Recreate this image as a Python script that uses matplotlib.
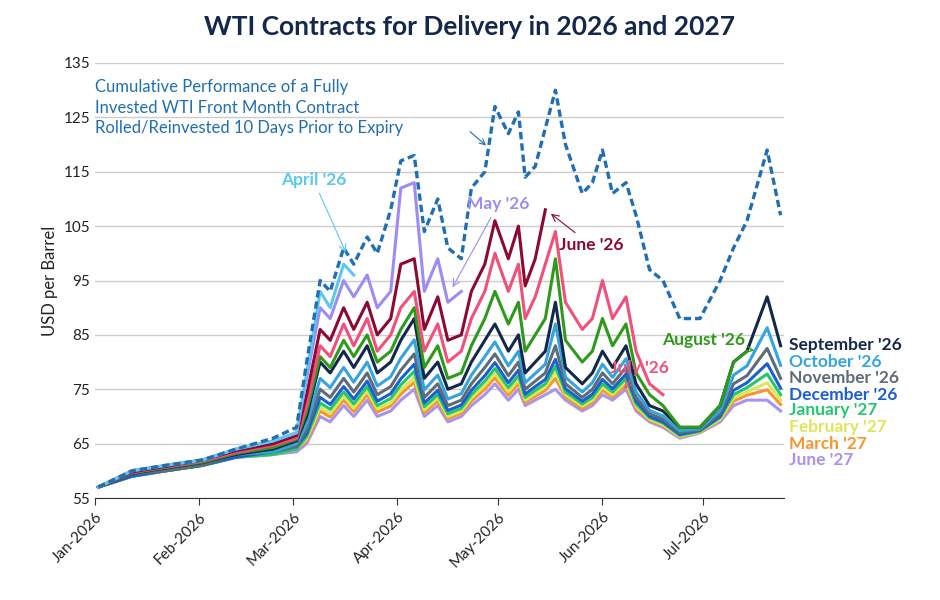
import matplotlib.pyplot as plt
import matplotlib.dates as mdates
import pandas as pd

plt.rcParams['font.family'] = ['Lato', 'DejaVu Sans']

dates = pd.to_datetime([
    "2026-01-02", "2026-01-12", "2026-01-22", "2026-02-02", "2026-02-12", "2026-02-23",
    "2026-03-02", "2026-03-05", "2026-03-09", "2026-03-12", "2026-03-16", "2026-03-19",
    "2026-03-23", "2026-03-26", "2026-03-30", "2026-04-02", "2026-04-06", "2026-04-09",
    "2026-04-13", "2026-04-16", "2026-04-20", "2026-04-23", "2026-04-27", "2026-04-30",
    "2026-05-04", "2026-05-07", "2026-05-09", "2026-05-12", "2026-05-15", "2026-05-18",
    "2026-05-21", "2026-05-26", "2026-05-29", "2026-06-01", "2026-06-04", "2026-06-08",
    "2026-06-11", "2026-06-15", "2026-06-19", "2026-06-24", "2026-06-30", "2026-07-06",
    "2026-07-10", "2026-07-14", "2026-07-20", "2026-07-24"])

front = [57, 60, 61, 62, 64, 66, 68, 80, 95, 93, 101, 98, 103, 100, 108, 117, 118, 104, 110, 101,
         99, 112, 115, 127, 122, 126, 114, 116, 123, 130, 120, 111, 113, 119, 111, 113, 107, 97, 95,
         88, 88, 95, 101, 106, 119, 107]

apr26 = [57, 60, 61, 62, 64, 65.5, 67, 78, 93, 90, 98, 96]
may26 = [57, 60, 61, 62, 64, 65.5, 67, 77, 90, 88, 95, 92, 96, 90, 93, 112, 113, 93, 99, 91, 93]
jun26 = [57, 59.8, 60.8, 62, 63.7, 65, 66.5, 74, 86, 84, 90, 86, 91, 85, 88, 98, 99, 86, 92, 84,
         85, 93, 98, 106, 99, 105, 94, 99, 108]
jul26 = [57, 59.7, 60.7, 61.8, 63.4, 64.7, 66, 72, 83, 81, 87, 83, 88, 82, 85, 90, 93, 82, 87, 80,
         82, 88, 93, 100, 93, 98, 88, 92, 98, 104, 91, 86, 88, 95, 88, 92, 82, 76, 74]
aug26 = [57, 59.6, 60.6, 61.6, 63.2, 64.3, 65.8, 71, 81, 79, 84, 81, 85, 80, 82, 86, 90, 79, 83, 77,
         78, 83, 88, 93, 87, 91, 82, 85, 88, 99, 84, 80, 82, 88, 83, 87, 78, 74, 72, 68, 68, 72, 80, 82]
sep26 = [57, 59.5, 60.5, 61.5, 63, 64, 65.5, 70, 80, 78, 82, 79, 83, 78, 80, 84, 88, 77, 80, 75,
         76, 80, 84, 87, 82, 85, 78, 80, 82, 91, 79, 76, 78, 82, 79, 83, 76, 72, 71, 68, 68, 72, 80,
         82, 92, 83]
oct26 = [57, 59.5, 60.5, 61.5, 63, 63.5, 65, 68.5, 77, 75.3, 79, 76.3, 80, 75.6, 77.3, 80.7, 84.1,
         74.9, 77.6, 73.2, 74.2, 77.6, 81, 83.7, 79.3, 82, 76.2, 77.9, 79.6, 87, 77.2, 74.5, 76.2,
         79.6, 77.2, 80.6, 74.5, 71.1, 70.1, 67.4, 67.7, 71.1, 77.6, 79.3, 86.3, 79.4]
nov26 = [57, 59.5, 60, 61, 63, 63.5, 64.5, 67.5, 75, 73.5, 77, 74.5, 78, 74, 75.5, 78.5, 81.5, 73.5,
         76, 72, 73, 76, 79, 81.5, 77.5, 80, 75, 76.5, 78, 83, 76, 73.5, 75, 78, 76, 79, 73.5, 70.5,
         69.5, 67, 67.5, 70.5, 76, 77.5, 82.5, 77]
dec26 = [57, 59, 60, 61, 62.5, 63.5, 64.5, 66.8, 73.5, 72.2, 75.5, 73.2, 76.5, 72.8, 74.2, 76.9,
         79.6, 72.5, 74.8, 71.1, 72.1, 74.8, 77.5, 79.9, 76.2, 78.5, 74.1, 75.5, 76.8, 80.5, 75.1,
         72.8, 74.1, 76.8, 75.1, 77.8, 72.8, 70, 69, 66.7, 67.4, 70, 74.8, 76.2, 79.7, 75.2]
jan27 = [57, 59, 60, 61, 62.5, 63, 64, 66.3, 72.5, 71.3, 74.5, 72.3, 75.5, 72, 73.3, 75.8, 78.3,
         71.8, 74, 70.5, 71.5, 74, 76.5, 78.8, 75.3, 77.5, 73.5, 74.8, 76, 79.2, 74.5, 72.3, 73.5,
         76, 74.5, 77, 72.3, 69.8, 68.8, 66.5, 67.3, 69.8, 74, 75.3, 77.8, 74]
feb27 = [57, 59, 60, 61, 62.5, 63, 64, 65.9, 71.7, 70.5, 73.7, 71.5, 74.7, 71.4, 72.5, 74.9, 77.2,
         71.2, 73.4, 70, 71, 73.4, 75.7, 77.9, 74.5, 76.7, 73, 74.2, 75.4, 78.2, 74, 71.9, 73, 75.4,
         74, 76.4, 71.9, 69.5, 68.5, 66.3, 67.2, 69.5, 73.4, 74.5, 76.2, 73]
mar27 = [57, 59, 60, 61, 62.5, 63, 64, 65.5, 71, 69.9, 73, 70.9, 74, 70.8, 71.9, 74.1, 76.3, 70.7,
         72.8, 69.6, 70.6, 72.8, 75, 77.1, 73.9, 76, 72.6, 73.7, 74.8, 77, 73.6, 71.5, 72.6, 74.8,
         73.6, 75.8, 71.5, 69.3, 68.3, 66.2, 67.1, 69.3, 72.8, 73.9, 74.9, 72.2]
jun27 = [57, 59, 60, 61, 62.5, 63, 63.5, 65, 70, 69, 72, 70, 73, 70, 71, 73, 75, 70, 72, 69, 70, 72,
         74, 76, 73, 75, 72, 73, 74, 75, 73, 71, 72, 74, 73, 75, 71, 69, 68, 66, 67, 69, 72, 73, 73, 71]

deferred = [
    ("June '27", jun27, "#a793f0"),
    ("March '27", mar27, "#f7942f"),
    ("February '27", feb27, "#dde65a"),
    ("January '27", jan27, "#22c76e"),
    ("December '26", dec26, "#1b5fd0"),
    ("November '26", nov26, "#5f6b78"),
    ("October '26", oct26, "#34a4dc"),
    ("September '26", sep26, "#13284b"),
]
expiring = [
    ("August '26", aug26, "#2e9a1a"),
    ("July '26", jul26, "#f0507a"),
    ("June '26", jun26, "#8b0a32"),
    ("May '26", may26, "#9f8cf2"),
    ("April '26", apr26, "#5bc8f0"),
]

fig = plt.figure(figsize=(9.4, 6), dpi=100)
ax = fig.add_axes([0.101, 0.17, 0.733, 0.725])

for name, vals, col in deferred + expiring:
    ax.plot(dates[:len(vals)], vals, color=col, lw=2.2)
ax.plot(dates, front, color="#1f6fb2", lw=2.4, ls=(0, (2.2, 1.2)))

ax.set_ylim(55, 135)
ax.set_yticks(range(55, 136, 10))
ax.set_xlim(pd.Timestamp("2026-01-01"), pd.Timestamp("2026-07-25"))
ax.xaxis.set_major_locator(mdates.MonthLocator())
ax.xaxis.set_major_formatter(mdates.DateFormatter("%b-%Y"))
plt.setp(ax.get_xticklabels(), rotation=45, ha="right", rotation_mode="anchor")
ax.tick_params(labelsize=11, colors="#222222", length=0)
ax.tick_params(axis="x", length=5, color="#333333")
ax.grid(axis="y", color="#cccccc", lw=1)
ax.set_axisbelow(True)
for s in ["top", "right", "left"]:
    ax.spines[s].set_visible(False)
ax.spines["bottom"].set_color("#333333")
ax.set_ylabel("USD per Barrel", fontsize=12, color="#222222")

fig.suptitle("WTI Contracts for Delivery in 2026 and 2027", fontsize=19, fontweight="bold",
             color="#13284b", y=0.975)

ax.text(pd.Timestamp("2026-01-01"), 132,
        "Cumulative Performance of a Fully\nInvested WTI Front Month Contract\nRolled/Reinvested 10 Days Prior to Expiry",
        color="#1f6fb2", fontsize=12, va="top", linespacing=1.35)
ax.annotate("", xy=(pd.Timestamp("2026-04-28"), 119.5), xytext=(pd.Timestamp("2026-04-22"), 122.7),
            arrowprops=dict(arrowstyle="->", color="#1f6fb2", lw=0.8))

# end labels
right_labels = [("September '26", 83.1), ("October '26", 80), ("November '26", 77),
                ("December '26", 74), ("January '27", 71.2), ("February '27", 68),
                ("March '27", 65), ("June '27", 62)]
cols = dict((n, c) for n, v, c in deferred)
for name, y in right_labels:
    ax.text(1.008, (y - 55) / 80, name, transform=ax.transAxes, color=cols[name],
            fontsize=12.5, fontweight="bold", va="center")

ax.annotate("April '26", xy=(pd.Timestamp("2026-03-17"), 99.7), xytext=(pd.Timestamp("2026-03-07"), 113.5),
            color="#5bc8f0", fontsize=12.5, fontweight="bold", ha="center", va="center",
            arrowprops=dict(arrowstyle="->", color="#5bc8f0", lw=0.8))
ax.annotate("May '26", xy=(pd.Timestamp("2026-04-17"), 93.3), xytext=(pd.Timestamp("2026-05-01"), 109),
            color="#9f8cf2", fontsize=12.5, fontweight="bold", ha="center", va="center",
            arrowprops=dict(arrowstyle="->", color="#9f8cf2", lw=0.8))
ax.annotate("June '26", xy=(pd.Timestamp("2026-05-16"), 107.6), xytext=(pd.Timestamp("2026-05-19"), 101.5),
            color="#8b0a32", fontsize=12.5, fontweight="bold", ha="left", va="center",
            arrowprops=dict(arrowstyle="->", color="#8b0a32", lw=0.8))
ax.annotate("July '26", xy=(pd.Timestamp("2026-06-07"), 74.6), xytext=(pd.Timestamp("2026-06-12"), 79),
            color="#f0507a", fontsize=12.5, fontweight="bold", ha="center", va="center",
            arrowprops=dict(arrowstyle="->", color="#f0507a", lw=0.8))
ax.annotate("August '26", xy=(pd.Timestamp("2026-07-17"), 82), xytext=(pd.Timestamp("2026-07-01"), 84),
            color="#2e9a1a", fontsize=12.5, fontweight="bold", ha="center", va="center",
            arrowprops=dict(arrowstyle="->", color="#2e9a1a", lw=0.8))

fig.savefig("out.png", dpi=100)
